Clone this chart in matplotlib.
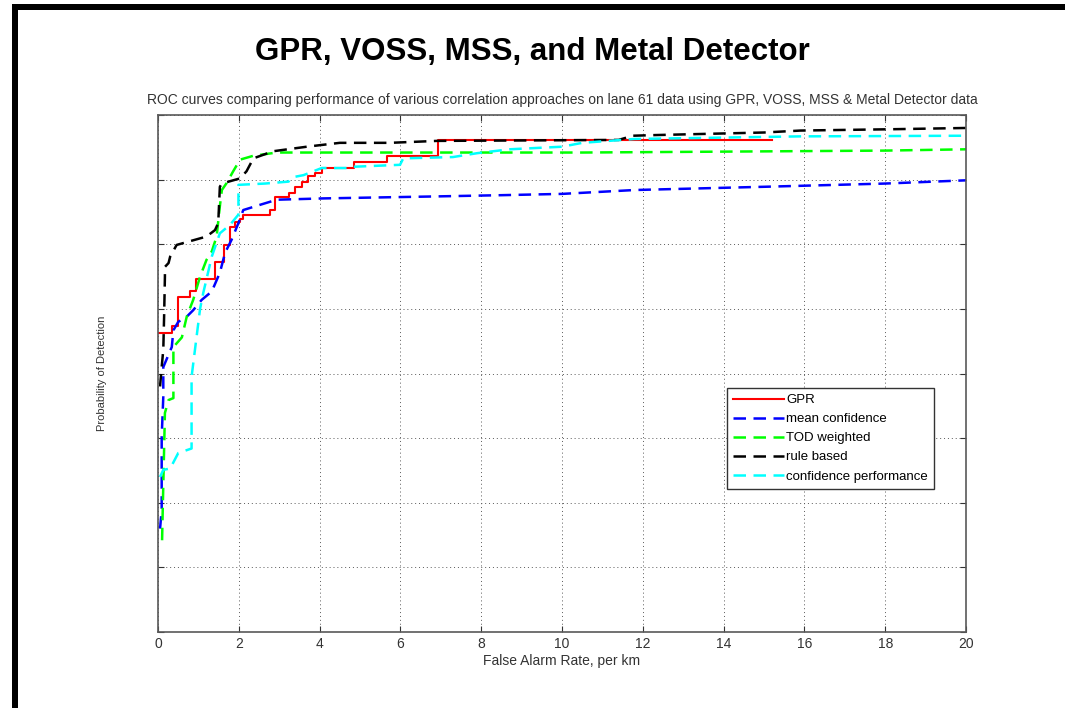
import matplotlib
matplotlib.use('Agg')
import matplotlib.pyplot as plt
from matplotlib.patches import Rectangle

plt.rcParams['font.family'] = ['Liberation Sans', 'DejaVu Sans']

# GPR (step curve: value jumps to pd at far)
gpr_far = [0, 0.34, 0.5, 0.79, 0.94, 1.4, 1.64, 1.78, 1.9, 2.03, 2.11, 2.77, 2.9,
           3.23, 3.39, 3.56, 3.72, 3.89, 4.05, 4.84, 5.66, 6.94, 15.2]
gpr_pd = [0.663, 0.673, 0.718, 0.727, 0.746, 0.773, 0.799, 0.827, 0.834, 0.839, 0.846, 0.853, 0.873,
          0.879, 0.889, 0.897, 0.905, 0.911, 0.918, 0.927, 0.936, 0.962, 0.962]

# mean confidence
mc_far = [0.05, 0.09, 0.09, 0.13, 0.13, 0.34, 0.38, 0.5, 0.71, 0.87, 1.08, 1.33, 1.53, 1.66,
          1.82, 1.99, 2.11, 2.52, 2.94, 4.09, 6.8, 8.5, 10, 11.8, 15, 18, 20]
mc_pd = [0.36, 0.389, 0.502, 0.564, 0.61, 0.641, 0.667, 0.68, 0.688, 0.698, 0.714, 0.727, 0.756, 0.787,
         0.807, 0.833, 0.853, 0.861, 0.869, 0.871, 0.874, 0.876, 0.878, 0.884, 0.889, 0.894, 0.899]

# TOD weighted
tod_far = [0.1, 0.12, 0.17, 0.26, 0.38, 0.38, 0.59, 0.71, 0.87, 1.04, 1.2, 1.33, 1.45, 1.53,
           1.58, 1.7, 1.86, 2.03, 2.36, 2.94, 8.2, 10.5, 18, 20]
tod_pd = [0.342, 0.40, 0.539, 0.559, 0.562, 0.641, 0.656, 0.688, 0.714, 0.75, 0.776, 0.789, 0.812, 0.859,
          0.884, 0.895, 0.913, 0.931, 0.937, 0.942, 0.942, 0.942, 0.945, 0.947]

# rule based
rb_far = [0.05, 0.09, 0.13, 0.15, 0.17, 0.17, 0.26, 0.3, 0.46, 1.2, 1.41, 1.49, 1.53, 1.58, 2.03,
          2.19, 2.36, 2.85, 3.68, 4.5, 5.74, 6.9, 11.4, 11.75, 12.3, 15.0, 15.9, 18.1, 20]
rb_pd = [0.58, 0.61, 0.637, 0.688, 0.75, 0.765, 0.771, 0.781, 0.799, 0.812, 0.822, 0.833, 0.889, 0.894, 0.902,
         0.913, 0.933, 0.944, 0.951, 0.957, 0.957, 0.960, 0.9615, 0.968, 0.969, 0.973, 0.976, 0.978, 0.98]

# confidence performance
cp_far = [0.05, 0.13, 0.3, 0.5, 0.83, 0.83, 0.96, 1.04, 1.12, 1.33, 1.53, 1.78, 1.99, 1.99, 2.65,
          3.23, 3.35, 3.6, 4.05, 4.75, 4.84, 5.99, 6.07, 7.3, 7.9, 8.7, 10, 10.5, 11.8, 15.9, 20]
cp_pd = [0.44, 0.451, 0.453, 0.477, 0.484, 0.595, 0.66, 0.70, 0.725, 0.781, 0.817, 0.83, 0.846, 0.892, 0.894,
         0.897, 0.904, 0.907, 0.918, 0.918, 0.92, 0.923, 0.933, 0.935, 0.941, 0.947, 0.951, 0.957, 0.963, 0.967, 0.968]

x_ticks = [0, 2, 4, 6, 8, 10, 12, 14, 16, 18, 20]
y_ticks = [0.2, 0.3, 0.4, 0.5, 0.6, 0.7, 0.8, 0.9, 1.0]

fig = plt.figure(figsize=(10.65, 7.08), dpi=100)
ax = fig.add_axes([0.1484, 0.1073, 0.7587, 0.7302])

dash = (0, (5, 3))
ax.plot(gpr_far, gpr_pd, color='red', lw=1.5, drawstyle='steps-post', label='GPR')
ax.plot(mc_far, mc_pd, color='blue', lw=1.8, linestyle=dash, label='mean confidence')
ax.plot(tod_far, tod_pd, color='#00ff00', lw=1.8, linestyle=dash, label='TOD weighted')
ax.plot(rb_far, rb_pd, color='black', lw=1.8, linestyle=dash, label='rule based')
ax.plot(cp_far, cp_pd, color='cyan', lw=1.8, linestyle=dash, label='confidence performance')

ax.set_xlim(0, 20)
ax.set_ylim(0.2, 1.0)
ax.set_xticks(x_ticks)
ax.set_yticks(y_ticks)
ax.set_yticklabels([])
ax.tick_params(direction='in', top=True, right=True, length=4, labelsize=10, colors='0.2')
ax.grid(True, linestyle=(0, (1, 3)), color='0.35', lw=0.7)
for s in ax.spines.values():
    s.set_color('0.35')
    s.set_linewidth(1.2)

ax.set_xlabel('False Alarm Rate, per km', fontsize=10, color='0.2', labelpad=2)
ax.set_ylabel('Probability of Detection', fontsize=8, color='0.2', labelpad=33)
ax.set_title('ROC curves comparing performance of various correlation approaches on lane 61 data '
             'using GPR, VOSS, MSS & Metal Detector data', fontsize=10, color='0.2', pad=8)

leg = ax.legend(loc='upper left', bbox_to_anchor=(0.704, 0.472), fontsize=9.5, frameon=True,
                fancybox=False, framealpha=1, edgecolor='0.2', handlelength=3.9,
                handletextpad=0.15, borderpad=0.45, labelspacing=0.52, borderaxespad=0)
leg.get_frame().set_linewidth(1.0)

fig.text(0.5, 0.927, 'GPR, VOSS, MSS, and Metal Detector', ha='center', va='center',
         fontsize=22.5, fontweight='bold')

# black frame on left and top edges
fig.add_artist(Rectangle((12 / 1065, 0), 5.5 / 1065, 704 / 708, transform=fig.transFigure,
                         color='black', lw=0))
fig.add_artist(Rectangle((12 / 1065, 698 / 708), 1, 6 / 708, transform=fig.transFigure,
                         color='black', lw=0))

fig.savefig('out.png', dpi=100)
